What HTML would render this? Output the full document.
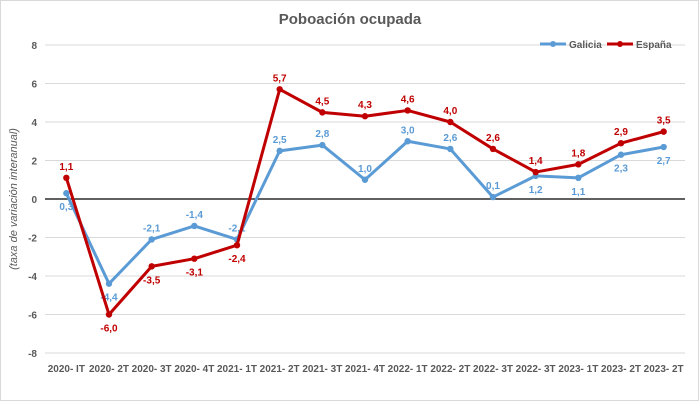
<!DOCTYPE html>
<html><head><meta charset="utf-8"><style>
body{margin:0;background:#fff;font-family:"Liberation Sans",sans-serif}
#wrap{position:relative;width:700px;height:407px;overflow:hidden}
svg text{font-family:"Liberation Sans",sans-serif}
</style></head><body>
<div id="wrap">
<svg id="chart" width="700" height="407">
<rect x="0.5" y="0.5" width="698" height="400" fill="#fff" stroke="#d9d9d9"/>
<text x="350" y="24" text-anchor="middle" font-size="15" font-weight="bold" fill="#595959">Poboación ocupada</text>
<text transform="translate(17,199) rotate(-90)" text-anchor="middle" font-size="11" font-style="italic" fill="#595959">(taxa de variación interanual)</text>
<g id="grid"></g><g id="series"></g>
<g>
<g><line x1="540" y1="44" x2="566" y2="44" stroke="#5b9bd5" stroke-width="3"/><circle cx="553" cy="44" r="3" fill="#5b9bd5"/><text x="569" y="48" font-size="10" font-weight="bold" fill="#595959">Galicia</text></g>
<g><line x1="607" y1="44" x2="633" y2="44" stroke="#c00000" stroke-width="3"/><circle cx="620" cy="44" r="3" fill="#c00000"/><text x="636" y="48" font-size="10" font-weight="bold" fill="#595959">España</text></g>
</g>
</svg></div>
<script>
const categories=["2020- IT","2020- 2T","2020- 3T","2020- 4T","2021- 1T","2021- 2T","2021- 3T","2021- 4T","2022- 1T","2022- 2T","2022- 3T","2022- 3T","2023- 1T","2023- 2T","2023- 2T"];
const galicia=[0.3,-4.4,-2.1,-1.4,-2.1,2.5,2.8,1.0,3.0,2.6,0.1,1.2,1.1,2.3,2.7];
const espana=[1.1,-6.0,-3.5,-3.1,-2.4,5.7,4.5,4.3,4.6,4.0,2.6,1.4,1.8,2.9,3.5];
const galiciaLabelPos=["b","b","a","a","a","a","a","a","a","a","a","b","b","b","b"];
const espanaLabelPos=["a","b","b","b","b","a","a","a","a","a","a","a","a","a","a"];
const yTicks=[8,6,4,2,0,-2,-4,-6,-8];
const NS="http://www.w3.org/2000/svg";
const plotLeft=45,plotRight=685,plotTop=45,plotBottom=353,yMin=-8,yMax=8;
const step=(plotRight-plotLeft)/categories.length;
const xs=i=>plotLeft+step*(i+0.5);
const ys=v=>plotBottom-(v-yMin)/(yMax-yMin)*(plotBottom-plotTop);
function mk(tag,attrs,parent){const e=document.createElementNS(NS,tag);for(const k in attrs)e.setAttribute(k,attrs[k]);parent.appendChild(e);return e;}
const grid=document.getElementById('grid');
yTicks.forEach(t=>{
  const l=mk('line',{x1:plotLeft,x2:plotRight,y1:ys(t),y2:ys(t),stroke:t===0?'#000':'#d9d9d9','stroke-width':t===0?1.3:1},grid);
  
  
  const tx=mk('text',{x:37,y:ys(t)+4,'text-anchor':'end','font-size':10,'font-weight':'bold',fill:'#595959'},grid);
  tx.textContent=t;
  
  
});
categories.forEach((c,i)=>{
  const tx=mk('text',{x:xs(i),y:372,'text-anchor':'middle','font-size':10,'font-weight':'bold',fill:'#595959'},grid);
  tx.textContent=c;
  
  
});
const sg=document.getElementById('series');
function draw(vals,pos,color,name){
  const g=mk('g',{},sg);
  
  
  const p=mk('polyline',{points:vals.map((v,i)=>xs(i)+','+ys(v)).join(' '),fill:'none',stroke:color,'stroke-width':3,'stroke-linejoin':'round'},g);
  
  
  vals.forEach((v,i)=>{
    const c=mk('circle',{cx:xs(i),cy:ys(v),r:3.2,fill:color},g);
    
    
    const ly=pos[i]==='a'?ys(v)-8:ys(v)+17;
    const t=mk('text',{x:xs(i),y:ly,'text-anchor':'middle','font-size':10,'font-weight':'bold',fill:color},g);
    t.textContent=v.toFixed(1).replace('.',',');
    
    
  });
}
draw(galicia,galiciaLabelPos,'#5b9bd5','galicia');
draw(espana,espanaLabelPos,'#c00000','espana');
</script>
</body></html>
